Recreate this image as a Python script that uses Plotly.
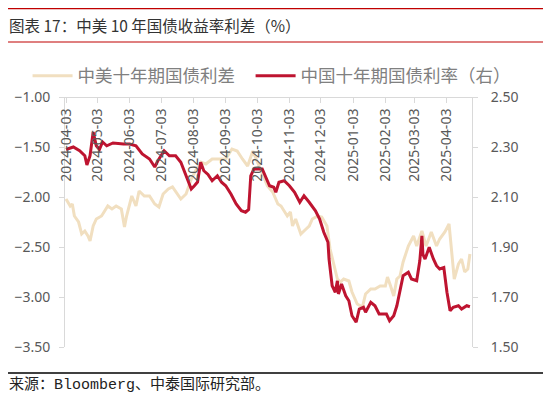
import plotly.graph_objects as go

# 中美十年期国债利差 (left axis)
spread_dates = ["2024-04-03","2024-04-07","2024-04-09","2024-04-11","2024-04-15","2024-04-18","2024-04-21","2024-04-24","2024-04-26","2024-04-29",
"2024-05-02","2024-05-07","2024-05-10","2024-05-13","2024-05-17","2024-05-21","2024-05-26","2024-05-29","2024-05-31","2024-06-05",
"2024-06-09","2024-06-12","2024-06-17","2024-06-22","2024-06-27","2024-07-01","2024-07-05","2024-07-10","2024-07-14","2024-07-19",
"2024-07-22","2024-07-27","2024-08-01","2024-08-06","2024-08-10","2024-08-15","2024-08-21","2024-08-28","2024-09-03","2024-09-09",
"2024-09-14","2024-09-19","2024-09-24","2024-09-29","2024-10-03","2024-10-08","2024-10-13","2024-10-18","2024-10-23","2024-10-26",
"2024-10-29","2024-11-01","2024-11-04","2024-11-06","2024-11-09","2024-11-14","2024-11-19","2024-11-22","2024-11-25","2024-11-30",
"2024-12-04","2024-12-09","2024-12-12","2024-12-16","2024-12-19","2024-12-22","2024-12-25","2024-12-30","2025-01-02","2025-01-07",
"2025-01-12","2025-01-15","2025-01-20","2025-01-24","2025-01-29","2025-02-03","2025-02-05","2025-02-08","2025-02-11","2025-02-14",
"2025-02-17","2025-02-20","2025-02-25","2025-03-02","2025-03-05","2025-03-10","2025-03-14","2025-03-19","2025-03-24","2025-03-27",
"2025-04-01","2025-04-05","2025-04-08","2025-04-10","2025-04-14","2025-04-17","2025-04-20","2025-04-23","2025-04-25"]
spread_values = [-2.02,-2.09,-2.07,-2.19,-2.25,-2.37,-2.34,-2.39,-2.44,-2.29,
-2.22,-2.19,-2.14,-2.09,-2.12,-2.09,-2.12,-2.30,-2.19,-1.99,
-2.09,-1.94,-1.99,-1.99,-2.07,-2.10,-1.97,-1.92,-1.90,-1.97,
-2.02,-1.97,-1.82,-1.72,-1.65,-1.67,-1.62,-1.62,-1.62,-1.52,
-1.54,-1.62,-1.69,-1.54,-1.64,-1.75,-1.89,-1.95,-2.07,-2.09,
-2.14,-2.19,-2.15,-2.29,-2.22,-2.37,-2.32,-2.29,-2.22,-2.19,
-2.20,-2.29,-2.52,-2.69,-2.82,-2.85,-2.82,-2.84,-2.95,-3.07,
-3.10,-2.97,-2.92,-2.92,-2.89,-2.89,-2.80,-2.89,-2.99,-2.82,
-2.79,-2.65,-2.49,-2.39,-2.49,-2.34,-2.49,-2.35,-2.49,-2.42,
-2.35,-2.27,-2.59,-2.82,-2.67,-2.62,-2.75,-2.72,-2.57]

# 中国十年期国债利率 (right axis)
cn_dates = ["2024-04-03","2024-04-10","2024-04-16","2024-04-21","2024-04-23","2024-04-26","2024-04-29","2024-05-02","2024-05-05","2024-05-08",
"2024-05-12","2024-05-18","2024-05-28","2024-06-03","2024-06-09","2024-06-15","2024-06-22","2024-06-27","2024-06-30","2024-07-06",
"2024-07-11","2024-07-17","2024-07-22","2024-07-27","2024-08-01","2024-08-04","2024-08-07","2024-08-10","2024-08-13","2024-08-17",
"2024-08-21","2024-08-26","2024-08-30","2024-09-03","2024-09-08","2024-09-13","2024-09-18","2024-09-22","2024-09-25","2024-09-27",
"2024-09-30","2024-10-08","2024-10-13","2024-10-15","2024-10-19","2024-10-21","2024-10-24","2024-10-29","2024-11-03","2024-11-08",
"2024-11-13","2024-11-17","2024-11-22","2024-11-28","2024-12-02","2024-12-06","2024-12-10","2024-12-11","2024-12-14","2024-12-17",
"2024-12-19","2024-12-20","2024-12-23","2024-12-27","2024-12-30","2025-01-02","2025-01-06","2025-01-09","2025-01-13","2025-01-15",
"2025-01-20","2025-01-24","2025-01-28","2025-02-04","2025-02-07","2025-02-11","2025-02-14","2025-02-17","2025-02-20","2025-02-25",
"2025-02-28","2025-03-05","2025-03-08","2025-03-10","2025-03-11","2025-03-13","2025-03-17","2025-03-21","2025-03-24","2025-03-27",
"2025-03-31","2025-04-03","2025-04-06","2025-04-09","2025-04-14","2025-04-17","2025-04-22","2025-04-25"]
cn_values = [2.29,2.30,2.285,2.265,2.228,2.265,2.36,2.305,2.29,2.32,
2.305,2.316,2.312,2.312,2.305,2.272,2.252,2.22,2.245,2.285,
2.265,2.265,2.239,2.185,2.132,2.145,2.16,2.239,2.205,2.19,
2.165,2.185,2.159,2.145,2.112,2.072,2.045,2.039,2.05,2.185,
2.212,2.212,2.159,2.145,2.139,2.119,2.159,2.165,2.145,2.119,
2.079,2.105,2.079,2.045,2.012,1.959,1.919,1.852,1.745,1.719,
1.765,1.712,1.752,1.705,1.685,1.625,1.599,1.652,1.659,1.639,
1.679,1.665,1.632,1.632,1.605,1.625,1.665,1.719,1.785,1.799,
1.772,1.765,1.845,1.945,1.87,1.852,1.899,1.852,1.825,1.812,
1.818,1.719,1.645,1.659,1.665,1.652,1.665,1.661]

tick_dates = ["2024-04-03","2024-05-03","2024-06-03","2024-07-03","2024-08-03","2024-09-03","2024-10-03",
              "2024-11-03","2024-12-03","2025-01-03","2025-02-03","2025-03-03","2025-04-03"]

TAN = "#F1DFC0"
RED = "#BE1430"
GRAY = "#595959"
AX = "#D9D9D9"

fig = go.Figure()
fig.add_trace(go.Scatter(x=spread_dates, y=spread_values, mode="lines", name="中美十年期国债利差",
                         line=dict(color=TAN, width=3), yaxis="y", legend="legend"))
fig.add_trace(go.Scatter(x=cn_dates, y=cn_values, mode="lines", name="中国十年期国债利率（右）",
                         line=dict(color=RED, width=3), yaxis="y2", legend="legend2"))

leg_common = dict(orientation="h", xanchor="left", yanchor="middle", y=1.085,
                  font=dict(size=17.5, color="#808080"), itemwidth=40,
                  bgcolor="rgba(0,0,0,0)")

fig.update_layout(
    width=543, height=392,
    margin=dict(l=57, r=79, t=89, b=53),
    paper_bgcolor="white", plot_bgcolor="white",
    font=dict(family="Noto Sans CJK SC, Noto Sans, sans-serif", color=GRAY, size=12),
    showlegend=True,
    legend=dict(x=-0.092, **leg_common),
    legend2=dict(x=0.456, **leg_common),
    xaxis=dict(type="date", side="bottom", anchor="free", position=1.0,
               range=["2024-04-02", "2025-04-27"], automargin=False,
               tickvals=tick_dates, tickformat="%Y-%m-%d", tickangle=-90,
               ticks="outside", ticklen=5, tickcolor=AX,
               showline=True, linecolor=AX, linewidth=1, showgrid=False, zeroline=False,
               tickfont=dict(size=14, color=GRAY, family="Noto Sans, sans-serif")),
    yaxis=dict(range=[-3.5, -1.0], dtick=0.5, tick0=-3.5, tickformat=".2f", showgrid=False, zeroline=False,
               showline=True, linecolor=AX, linewidth=1, ticks="outside", ticklen=5, tickcolor=AX,
               automargin=False, ticklabelstandoff=6,
               tickfont=dict(size=14, color=GRAY, family="Noto Sans, sans-serif")),
    yaxis2=dict(range=[1.5, 2.5], dtick=0.2, tick0=1.5, tickformat=".2f", overlaying="y", side="right",
                showgrid=False, zeroline=False, showline=True, linecolor=AX, linewidth=1,
                ticks="outside", ticklen=5, tickcolor=AX, automargin=False, ticklabelstandoff=10,
                tickfont=dict(size=14, color=GRAY, family="Noto Sans, sans-serif")),
)

# header / footer decorations
fig.add_shape(type="line", xref="paper", yref="paper", x0=-0.14, x1=1.1794, y0=1.3536, y1=1.3536,
              line=dict(color="#C00000", width=1.2))
fig.add_shape(type="line", xref="paper", yref="paper", x0=-0.14, x1=1.1794, y0=1.22, y1=1.22,
              line=dict(color="#C00000", width=1.2))
fig.add_shape(type="line", xref="paper", yref="paper", x0=-0.14, x1=1.1794, y0=-0.104, y1=-0.104,
              line=dict(color="#000000", width=1.5))
fig.add_annotation(text="图表 17：中美 10 年国债收益率利差（%）", xref="paper", yref="paper",
                   x=-0.1425, y=1.288, xanchor="left", yanchor="middle", showarrow=False,
                   font=dict(size=15.5, color="#333333", family="Noto Sans CJK SC"))
fig.add_annotation(text="来源：Bloomberg、中泰国际研究部。", xref="paper", yref="paper",
                   x=-0.1425, y=-0.152, xanchor="left", yanchor="middle", showarrow=False,
                   font=dict(size=15, color="#222222", family="Liberation Mono, Noto Sans CJK SC, monospace"))

fig.write_html("out.html")
